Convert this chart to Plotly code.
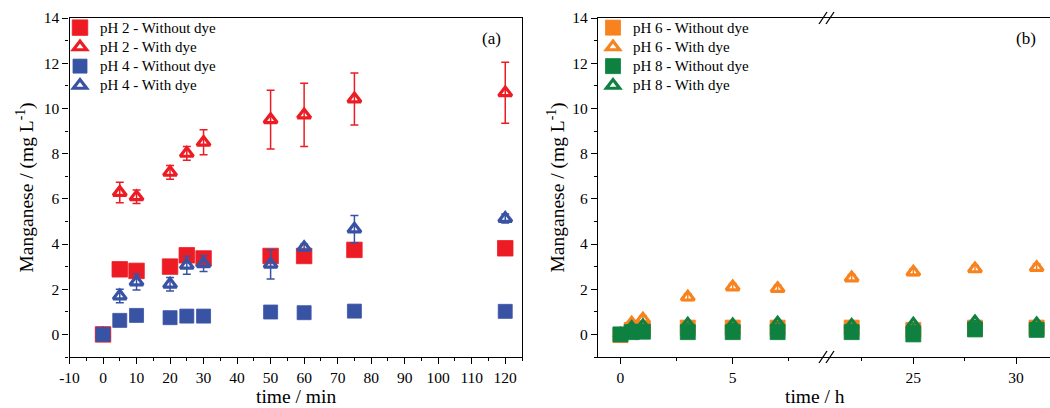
import plotly.graph_objects as go

# ---------------- data ----------------
t_min = [0, 5, 10, 20, 25, 30, 50, 60, 75, 120]
ph2_without = [0, 2.88, 2.81, 3.0, 3.5, 3.36, 3.47, 3.47, 3.74, 3.81]
ph2_with = [0, 6.28, 6.09, 7.17, 8.01, 8.5, 9.5, 9.71, 10.42, 10.69]
ph2_with_err = [0, 0.45, 0.3, 0.3, 0.3, 0.55, 1.3, 1.4, 1.15, 1.35]
ph4_without = [0, 0.62, 0.84, 0.74, 0.81, 0.81, 0.99, 0.96, 1.03, 1.02]
ph4_with = [0, 1.7, 2.32, 2.22, 3.06, 3.13, 3.1, 3.84, 4.66, 5.13]
ph4_with_err = [0, 0.3, 0.35, 0.3, 0.4, 0.35, 0.65, 0.15, 0.6, 0.2]

t_h = [0, 0.5, 1, 3, 5, 7, 22, 25, 28, 31]
ph6_without = [-0.03, 0.2, 0.25, 0.3, 0.3, 0.3, 0.3, 0.2, 0.3, 0.3]
ph6_with = [0, 0.5, 0.68, 1.65, 2.1, 2.03, 2.5, 2.76, 2.9, 2.96]
ph6_with_err = [0, 0.1, 0.15, 0.15, 0.15, 0.15, 0.15, 0.15, 0.15, 0.15]
ph8_without = [0, 0.1, 0.12, 0.1, 0.1, 0.1, 0.1, 0.0, 0.22, 0.2]
ph8_with = [0, 0.3, 0.38, 0.45, 0.42, 0.5, 0.4, 0.45, 0.55, 0.47]
ph8_with_err = [0, 0.05, 0.05, 0.05, 0.05, 0.05, 0.05, 0.05, 0.05, 0.05]

x_ticks_min = [-10, 0, 10, 20, 30, 40, 50, 60, 70, 80, 90, 100, 110, 120]

RED = "#ED1C24"
BLUE = "#3953A4"
ORANGE = "#F7821E"
GREEN = "#0E8140"
FONT = "Liberation Serif, Times New Roman, Times, serif"

W, H = 1050, 408
def px(x):
    return x / W
def py(y):
    return 1 - y / H

def lname(s):
    return '<span style="font-size:15px">' + s + '</span>'

fig = go.Figure()

def sq(x, y, color, name, xa, ya, legend, show=True, size=15):
    fig.add_trace(go.Scatter(
        x=x, y=y, mode="markers", name=lname(name), xaxis=xa, yaxis=ya,
        legend=legend, showlegend=show, legendgroup=name,
        marker=dict(symbol="square", size=size, color=color,
                    line=dict(width=0.8, color=color)),
        cliponaxis=False))

def tri(x, y, err, color, name, xa, ya, legend, show=True):
    fig.add_trace(go.Scatter(
        x=x, y=y, mode="markers", name=lname(name), xaxis=xa, yaxis=ya,
        legend=legend, showlegend=show, legendgroup=name,
        error_y=dict(type="data", array=err, visible=True, color=color,
                     thickness=1.5, width=4),
        marker=dict(symbol="triangle-up-open", size=11.5, color=color,
                    line=dict(width=3.2, color=color)),
        cliponaxis=False))

# ---- panel (a)
sq(t_min, ph2_without, RED, "pH 2 - Without dye", "x", "y", "legend", size=15.5)
tri(t_min, ph2_with, ph2_with_err, RED, "pH 2 - With dye", "x", "y", "legend")
sq(t_min, ph4_without, BLUE, "pH 4 - Without dye", "x", "y", "legend", size=14)
tri(t_min, ph4_with, ph4_with_err, BLUE, "pH 4 - With dye", "x", "y", "legend")

# ---- panel (b): split across broken axis
def split(t, v):
    a = [(ti, vi) for ti, vi in zip(t, v) if ti < 15]
    b = [(ti, vi) for ti, vi in zip(t, v) if ti >= 15]
    return ([p[0] for p in a], [p[1] for p in a]), ([p[0] for p in b], [p[1] for p in b])

for series, err, color, name, kind in [
    (ph6_without, None, ORANGE, "pH 6 - Without dye", "sq"),
    (ph6_with, ph6_with_err, ORANGE, "pH 6 - With dye", "tri"),
    (ph8_without, None, GREEN, "pH 8 - Without dye", "sq"),
    (ph8_with, ph8_with_err, GREEN, "pH 8 - With dye", "tri"),
]:
    (xa_, ya_), (xb_, yb_) = split(t_h, series)
    if kind == "sq":
        sq(xa_, ya_, color, name, "x2", "y2", "legend2", True)
        sq(xb_, yb_, color, name, "x3", "y2", "legend2", False)
    else:
        (_, ea), (_, eb) = split(t_h, err)
        tri(xa_, ya_, ea, color, name, "x2", "y2", "legend2", True)
        tri(xb_, yb_, eb, color, name, "x3", "y2", "legend2", False)

axis_common = dict(showgrid=False, zeroline=False, showline=True, linecolor="black",
                   linewidth=1.3, ticks="outside", ticklen=6, tickwidth=1.2,
                   tickcolor="black",
                   tickfont=dict(family=FONT, size=15.5, color="black"))
inside_common = dict(showgrid=False, zeroline=False, showline=False, ticks="inside",
                     ticklen=5, tickwidth=1.2, tickcolor="black", showticklabels=False)

yb, yt = 357, 18
ydom = [py(yb), py(yt)]
xa_dom = [px(69.5), px(522)]
x2_dom = [px(598), px(827)]
x3_dom = [px(827), 1.0]

minor_out = dict(ticks="outside", ticklen=3, tickwidth=1.2, tickcolor="black")
minor_in = dict(ticks="inside", ticklen=3, tickwidth=1.2, tickcolor="black")

fig.update_layout(
    width=W, height=H, margin=dict(l=0, r=0, t=0, b=0, autoexpand=False),
    plot_bgcolor="white", paper_bgcolor="white",
    font=dict(family=FONT, color="black"),
    xaxis=dict(domain=xa_dom, range=[-10, 125], tickvals=x_ticks_min,
               ticktext=[str(v) for v in x_ticks_min], anchor="y", mirror=True,
               minor=dict(dtick=5, tick0=0, **minor_out), **axis_common),
    yaxis=dict(domain=ydom, range=[-1, 14], dtick=2, tick0=0, anchor="x", mirror=True,
               minor=dict(dtick=1, **minor_out), **axis_common),
    xaxis4=dict(overlaying="x", side="top", anchor="y", range=[-10, 125], dtick=10, tick0=0,
                minor=dict(dtick=5, **minor_in), **inside_common),
    yaxis3=dict(overlaying="y", side="right", anchor="x", range=[-1, 14], dtick=2, tick0=0,
                minor=dict(dtick=1, **minor_in), **inside_common),
    xaxis2=dict(domain=x2_dom, range=[-1, 9.2], tickvals=[0, 5], anchor="y2", mirror=True,
                minor=dict(tickvals=[2.5, 7.5], **minor_out), **axis_common),
    xaxis3=dict(domain=x3_dom, range=[20.8, 31.65], tickvals=[25, 30], anchor="y2", mirror=True,
                minor=dict(tickvals=[22.5, 27.5], **minor_out), **axis_common),
    xaxis5=dict(overlaying="x2", side="top", anchor="y2", range=[-1, 9.2], tickvals=[0, 5],
                minor=dict(tickvals=[2.5, 7.5], **minor_in), **inside_common),
    xaxis6=dict(overlaying="x3", side="top", anchor="y2", range=[20.8, 31.65], tickvals=[25, 30],
                minor=dict(tickvals=[22.5, 27.5], **minor_in), **inside_common),
    yaxis2=dict(domain=ydom, range=[-1, 14], dtick=2, tick0=0, anchor="x2",
                minor=dict(dtick=1, **minor_out), **axis_common),
    legend=dict(x=px(60), y=py(13), xanchor="left", yanchor="top",
                bgcolor="rgba(0,0,0,0)", font=dict(family=FONT, size=12.5, color="black"),
                itemsizing="trace", tracegroupgap=0),
    legend2=dict(x=px(593), y=py(13), xanchor="left", yanchor="top",
                 bgcolor="rgba(0,0,0,0)", font=dict(family=FONT, size=12.5, color="black"),
                 itemsizing="trace", tracegroupgap=0),
    showlegend=True,
)

ann_font = dict(family=FONT, size=19.5, color="black")
def ann(text, x, y, font, angle=0):
    fig.add_annotation(text=text, x=px(x), y=py(y), xref="paper", yref="paper",
                       xanchor="center", yanchor="middle", showarrow=False,
                       textangle=angle, font=font)

ann("time / min", 296, 396, ann_font)
ann("time / h", 815, 396, ann_font)
ann("Manganese / (mg L<sup>-1</sup>)", 25, 187.5, ann_font, -90)
ann("Manganese / (mg L<sup>-1</sup>)", 556, 187.5, ann_font, -90)
ann("(a)", 491, 38, dict(family=FONT, size=17, color="black"))
ann("(b)", 1026, 38, dict(family=FONT, size=17, color="black"))

# axis break marks "//"
for ybase in (yb, yt):
    for dx in (-4, 3):
        cx = 827 + dx
        fig.add_shape(type="line", xref="paper", yref="paper",
                      x0=px(cx - 4), y0=py(ybase + 6), x1=px(cx + 4), y1=py(ybase - 6),
                      line=dict(color="black", width=1.3))

fig.write_html("out.html", config={"displayModeBar": False},
               post_script="document.body.style.margin='0px';document.body.style.padding='0px';")
